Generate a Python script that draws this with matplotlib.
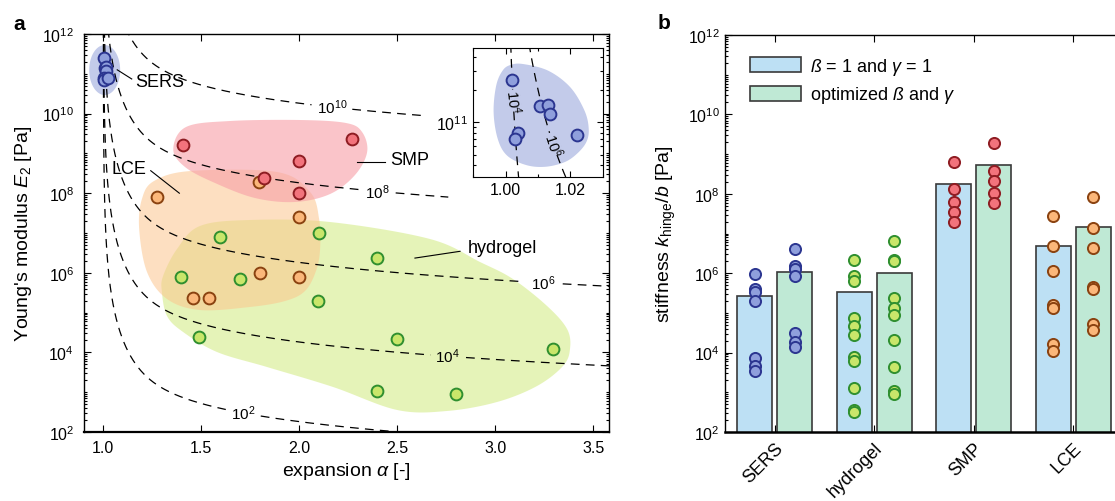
import numpy as np
import matplotlib.pyplot as plt
from matplotlib.ticker import FixedLocator, FuncFormatter, LogLocator, NullFormatter

plt.rcParams['font.family'] = ['Liberation Sans', 'DejaVu Sans']
plt.rcParams['mathtext.fontset'] = 'custom'
plt.rcParams['mathtext.rm'] = 'Liberation Sans'
plt.rcParams['mathtext.it'] = 'Liberation Sans:italic'
plt.rcParams['mathtext.bf'] = 'Liberation Sans:bold'

# ---- panel a: materials (expansion alpha, Young's modulus E2 [Pa]) ----
sers_alpha = [1.0021, 1.0105, 1.0132, 1.0138, 1.0039, 1.0030, 1.0220]
sers_E = [2.44e11, 1.42e11, 1.44e11, 1.19e11, 7.9e10, 7.0e10, 7.7e10]
smp_alpha = [1.405, 2.27, 1.997, 1.82, 2.0]
smp_E = [1.6e9, 2.3e9, 6.6e8, 2.4e8, 1.0e8]
lce_alpha = [1.274, 1.794, 2.0, 1.797, 2.0, 1.459, 1.537]
lce_E = [8.0e7, 1.9e8, 2.5e7, 1.0e6, 7.8e5, 2.3e5, 2.3e5]
gel_alpha = [1.597, 2.098, 2.397, 1.395, 1.697, 2.096, 1.486, 2.5, 3.295, 2.397, 2.8]
gel_E = [7.8e6, 9.8e6, 2.4e6, 7.8e5, 6.9e5, 2.0e5, 2.5e4, 2.2e4, 1.2e4, 1.05e3, 9.0e2]

# region outlines, (alpha, log10 E)
smp_blob_a = [1.357, 1.422, 1.646, 2.004, 2.238, 2.320, 2.346, 2.284, 2.157, 1.978, 1.774, 1.570, 1.417]
smp_blob_l = [9.111, 9.663, 9.814, 9.839, 9.764, 9.538, 9.035, 8.457, 7.980, 7.779, 7.879, 8.256, 8.658]
lce_blob_a = [1.183, 1.197, 1.259, 1.447, 1.886, 2.055, 2.101, 2.106, 2.085, 2.029, 1.927, 1.748, 1.493, 1.325, 1.223]
lce_blob_l = [7.101, 7.854, 8.307, 8.558, 8.533, 8.030, 7.352, 6.598, 6.045, 5.543, 5.291, 5.141, 5.065, 5.342, 6.020]
gel_blob_a = [1.299, 1.305, 1.376, 1.493, 1.748, 2.157, 2.667, 2.922, 3.090, 3.264, 3.366,
              3.381, 3.345, 3.213, 3.009, 2.754, 2.499, 2.172, 1.835, 1.580, 1.407, 1.325]
gel_blob_l = [5.518, 5.920, 6.598, 7.176, 7.327, 7.276, 6.849, 6.271, 5.844, 5.166, 4.588,
              4.085, 3.658, 3.156, 2.754, 2.528, 2.553, 3.131, 3.633, 4.010, 4.513, 4.915]
sers_inset_a = [1.00146, 1.00536, 1.01318, 1.02000, 1.02439, 1.02568, 1.02489, 1.02196,
                1.01807, 1.01221, 1.00635, 1.00050, 0.99757, 0.99628, 0.99707, 0.99903]
sers_inset_l = [11.529, 11.538, 11.476, 11.323, 11.107, 10.938, 10.815, 10.708,
                10.631, 10.590, 10.606, 10.692, 10.846, 11.092, 11.338, 11.476]

# iso-stiffness lines k/b = E * g(alpha)
iso_levels = [1e2, 1e4, 1e6, 1e8, 1e10]
iso_texts = ['$10^{2}$', '$10^{4}$', '$10^{6}$', '$10^{8}$', '$10^{10}$']
iso_label_alpha = [1.714, 2.754, 3.244, 2.40, 2.168]
iso_end_alpha = [3.58, 3.58, 3.58, 2.76, 2.62]
G_SMALL = (5.0, 3.0)     # coefficient, exponent for alpha -> 1
G_LARGE = (0.552, 1.45)  # coefficient, exponent for large expansion

# ---- panel b: hinge stiffness ----
materials = ['SERS', 'hydrogel', 'SMP', 'LCE']
bar_unit = [2.7e5, 3.4e5, 1.8e8, 4.8e6]
bar_opt = [1.1e6, 1.0e6, 5.2e8, 1.45e7]
pts_unit = [
    [9.7e5, 4.0e5, 3.4e5, 2.0e5, 7.2e3, 4.7e3, 3.4e3],
    [2.2e6, 8.3e5, 6.5e5, 7.4e4, 4.6e4, 2.7e4, 7.9e3, 6.0e3, 1.3e3, 3.5e2, 3.1e2],
    [6.5e8, 1.3e8, 6.2e7, 3.5e7, 1.9e7],
    [2.8e7, 4.8e6, 1.16e6, 1.58e5, 1.31e5, 1.65e4, 1.08e4],
]
pts_opt = [
    [4.0e6, 1.55e6, 1.3e6, 8.7e5, 3.1e4, 1.9e4, 1.35e4],
    [6.3e6, 2.2e6, 2.0e6, 2.4e5, 1.3e5, 9.0e4, 2.1e4, 4.3e3, 1.1e3, 9.0e2],
    [1.9e9, 3.8e8, 2.1e8, 1.07e8, 5.8e7],
    [8.2e7, 1.38e7, 4.2e6, 4.6e5, 4.0e5, 5.2e4, 3.7e4],
]

# colours
sers_face, sers_edge, sers_fill = '#8f9fdc', '#2b3590', '#c3cbea'
smp_face, smp_edge, smp_fill = '#f2737c', '#8e1c22', '#f7a1a8'
lce_face, lce_edge, lce_fill = '#fbb77a', '#8a4210', '#fcc68e'
gel_face, gel_edge, gel_fill = '#c9e66a', '#2f8f2f', '#d5ec8a'
mat_face = [sers_face, gel_face, smp_face, lce_face]
mat_edge = [sers_edge, gel_edge, smp_edge, lce_edge]
bar_blue, bar_green = '#bde0f4', '#bfe9d5'


def hinge_factor(alpha):
    x = np.asarray(alpha) - 1.0
    g1 = G_SMALL[0] * x ** G_SMALL[1]
    g2 = G_LARGE[0] * x ** G_LARGE[1]
    return (g1 ** -2 + g2 ** -2) ** -0.5


def smooth_outline(xs, ls, n=24):
    """closed Catmull-Rom curve through outline points (alpha, log10 E)"""
    p1 = np.column_stack([xs, ls])
    p0, p2, p3 = np.roll(p1, 1, 0), np.roll(p1, -1, 0), np.roll(p1, -2, 0)
    t = np.linspace(0, 1, n, endpoint=False)[:, None, None]
    pts = 0.5 * (2 * p1 + (-p0 + p2) * t + (2 * p0 - 5 * p1 + 4 * p2 - p3) * t ** 2
                 + (-p0 + 3 * p1 - 3 * p2 + p3) * t ** 3)
    pts = pts.transpose(1, 0, 2).reshape(-1, 2)
    return pts[:, 0], 10 ** pts[:, 1]


def pow10(v, pos):
    return r'$10^{%d}$' % int(round(np.log10(v)))


def log_axis(ax, lo, hi, step=2):
    ax.set_yscale('log')
    ax.yaxis.set_major_locator(FixedLocator([10.0 ** k for k in range(lo, hi + 1, step)]))
    ax.yaxis.set_major_formatter(FuncFormatter(pow10))
    ax.yaxis.set_minor_locator(LogLocator(base=10, subs=np.arange(1, 10), numticks=100))
    ax.yaxis.set_minor_formatter(NullFormatter())


DASH = (0, (7, 5))

fig = plt.figure(figsize=(11.15, 5.02), dpi=100)

# =================== panel a ===================
ax = fig.add_axes([84 / 1115, 69 / 502, 525 / 1115, 398 / 502])
log_axis(ax, 2, 12)
ax.set_xlim(0.9015, 3.58)
ax.set_ylim(1e2, 1e12)
ax.set_xticks([1.0, 1.5, 2.0, 2.5, 3.0, 3.5])
ax.xaxis.set_major_formatter(FuncFormatter(lambda v, p: '%.1f' % v))
ax.tick_params(which='both', direction='in', top=True, right=True, width=0.8)
ax.tick_params(which='major', length=5, labelsize=11.5)
ax.tick_params(axis='y', which='major', pad=7)
ax.tick_params(axis='x', which='major', pad=6)
ax.tick_params(which='minor', length=2.5)
for s in ax.spines.values():
    s.set_linewidth(1.0)
ax.spines['bottom'].set_linewidth(1.6)

# regions
for ba, bl, col, al in [(gel_blob_a, gel_blob_l, gel_fill, 0.6),
                        (lce_blob_a, lce_blob_l, lce_fill, 0.55),
                        (smp_blob_a, smp_blob_l, smp_fill, 0.62)]:
    bx, by = smooth_outline(ba, bl)
    ax.fill(bx, by, color=col, alpha=al, lw=0, zorder=1)
th = np.linspace(0, 2 * np.pi, 120)
ax.fill(1.007 + 0.079 * np.cos(th), 10 ** (11.095 + 0.628 * np.sin(th)),
        color=sers_fill, lw=0, zorder=1)

# iso-stiffness lines
for K, txt, a_lab, a_end in zip(iso_levels, iso_texts, iso_label_alpha, iso_end_alpha):
    a = 1 + np.logspace(-6, np.log10(a_end - 1), 2000)
    E = K / hinge_factor(a)
    gap = 0.085 if K < 1e10 else 0.1
    E[np.abs(a - a_lab) < gap] = np.nan
    ax.plot(a, E, color='k', lw=0.9, ls=DASH, zorder=2)
    ax.text(a_lab, K / hinge_factor(a_lab), txt, fontsize=11, ha='center', va='center', zorder=3)

for xs, ys, fc, ec in [(gel_alpha, gel_E, gel_face, gel_edge),
                       (lce_alpha, lce_E, lce_face, lce_edge),
                       (smp_alpha, smp_E, smp_face, smp_edge),
                       (sers_alpha, sers_E, sers_face, sers_edge)]:
    ax.plot(xs, ys, 'o', ms=8.5, mfc=fc, mec=ec, mew=1.4, ls='none', zorder=5)

# callouts
ax.plot([1.071, 1.145], [10 ** 11.10, 10 ** 10.87], color='k', lw=0.8, zorder=3)
ax.text(1.162, 10 ** 10.81, 'SERS', fontsize=13, va='center', ha='left')
ax.plot([2.293, 2.437], [10 ** 8.79, 10 ** 8.79], color='k', lw=0.8, zorder=3)
ax.text(2.463, 10 ** 8.84, 'SMP', fontsize=13, va='center', ha='left')
ax.plot([1.242, 1.388], [10 ** 8.565, 10 ** 8.0], color='k', lw=0.8, zorder=3)
ax.text(1.043, 10 ** 8.63, 'LCE', fontsize=13, va='center', ha='left')
ax.plot([2.59, 2.82], [10 ** 6.37, 10 ** 6.54], color='k', lw=0.8, zorder=3)
ax.text(2.859, 10 ** 6.64, 'hydrogel', fontsize=13, va='center', ha='left')

ax.set_xlabel(r'expansion $\mathit{\alpha}$ [-]', fontsize=14)
ax.set_ylabel(r"Young's modulus $\mathit{E}_{2}$ [Pa]", fontsize=14)
ax.xaxis.set_label_coords(0.5, -0.07)
ax.yaxis.set_label_coords(-0.095, 0.5)

# inset
ins = fig.add_axes([473.3 / 1115, (502 - 178.3) / 502, 129.4 / 1115, 129 / 502])
ins.set_yscale('log')
ins.set_xlim(0.9907, 1.0286)
ins.set_ylim(10 ** 10.493, 10 ** 11.683)
ins.yaxis.set_major_locator(FixedLocator([1e11]))
ins.yaxis.set_major_formatter(FuncFormatter(pow10))
ins.yaxis.set_minor_locator(LogLocator(base=10, subs=np.arange(2, 10), numticks=100))
ins.yaxis.set_minor_formatter(NullFormatter())
ins.set_xticks([1.00, 1.02])
ins.set_xticks([0.99, 1.01, 1.03], minor=True)
ins.xaxis.set_major_formatter(FuncFormatter(lambda v, p: '%.2f' % v))
ins.tick_params(which='both', direction='in', top=True, right=True, width=0.8, labelsize=11.5)
ins.tick_params(which='major', length=4)
ins.tick_params(which='minor', length=2)
bx, by = smooth_outline(sers_inset_a, sers_inset_l)
ins.fill(bx, by, color=sers_fill, lw=0, zorder=1)
for K, txt, l_lab, rot in [(1e4, '$10^{4}$', 11.2, -84), (1e6, '$10^{6}$', 10.8, -72)]:
    a = 1 + np.logspace(-5, np.log10(0.03), 2000)
    E = K / hinge_factor(a)
    lE = np.log10(E)
    a_lab = np.interp(l_lab, lE[::-1], a[::-1])
    E[np.abs(lE - l_lab) < 0.1] = np.nan
    ins.plot(a, E, color='k', lw=0.9, ls=DASH, zorder=2)
    ins.text(a_lab, 10 ** l_lab, txt, fontsize=10.5, rotation=rot, ha='center', va='center',
             rotation_mode='anchor', zorder=3)
ins.plot(sers_alpha, sers_E, 'o', ms=8.5, mfc=sers_face, mec=sers_edge, mew=1.4, ls='none', zorder=5)

# =================== panel b ===================
bx_ax = fig.add_axes([725 / 1115, 69 / 502, 398 / 1115, 397 / 502])
log_axis(bx_ax, 2, 12)
bx_ax.set_ylim(1e2, 1e12)
bx_ax.set_xlim(0.5, 4.5)
pos = np.arange(1, len(materials) + 1)
off, width = 0.2, 0.35
bx_ax.bar(pos - off, bar_unit, width, color=bar_blue, edgecolor='#3a3a3a', lw=1.2,
          label=r'$\mathit{ß}$ = 1 and $\mathit{γ}$ = 1', zorder=2)
bx_ax.bar(pos + off, bar_opt, width, color=bar_green, edgecolor='#3a3a3a', lw=1.2,
          label=r'optimized $\mathit{ß}$ and $\mathit{γ}$', zorder=2)
for i in range(len(materials)):
    bx_ax.plot([pos[i] - off] * len(pts_unit[i]), pts_unit[i], 'o', ms=8, mfc=mat_face[i],
               mec=mat_edge[i], mew=1.4, ls='none', zorder=4, clip_on=False)
    bx_ax.plot([pos[i] + off] * len(pts_opt[i]), pts_opt[i], 'o', ms=8, mfc=mat_face[i],
               mec=mat_edge[i], mew=1.4, ls='none', zorder=4, clip_on=False)
bx_ax.set_xticks(pos)
bx_ax.set_xticklabels(materials, rotation=45, ha='right', va='top', rotation_mode='anchor', fontsize=13)
bx_ax.tick_params(which='both', direction='in', top=True, right=False, width=0.8)
bx_ax.tick_params(which='major', length=5, labelsize=11.5)
bx_ax.tick_params(axis='y', which='major', pad=4)
bx_ax.tick_params(axis='x', which='major', pad=5, labelsize=13)
bx_ax.tick_params(which='minor', length=2.5)
for s in bx_ax.spines.values():
    s.set_linewidth(1.0)
bx_ax.spines['bottom'].set_linewidth(1.8)
bx_ax.set_ylabel(r'stiffness $\mathit{k}_{\rm hinge}/\mathit{b}$ [Pa]', fontsize=14)
bx_ax.yaxis.set_label_coords(-0.118, 0.5)
bx_ax.legend(loc='upper left', bbox_to_anchor=(0.045, 0.965), frameon=False, fontsize=13,
             borderaxespad=0, handlelength=2.8, handleheight=0.9, labelspacing=0.4,
             handletextpad=0.5)

fig.text(13 / 1115, 1 - 30 / 502, 'a', fontsize=15, fontweight='bold')
fig.text(658 / 1115, 1 - 29 / 502, 'b', fontsize=15, fontweight='bold')

fig.savefig('out.png', dpi=100)
